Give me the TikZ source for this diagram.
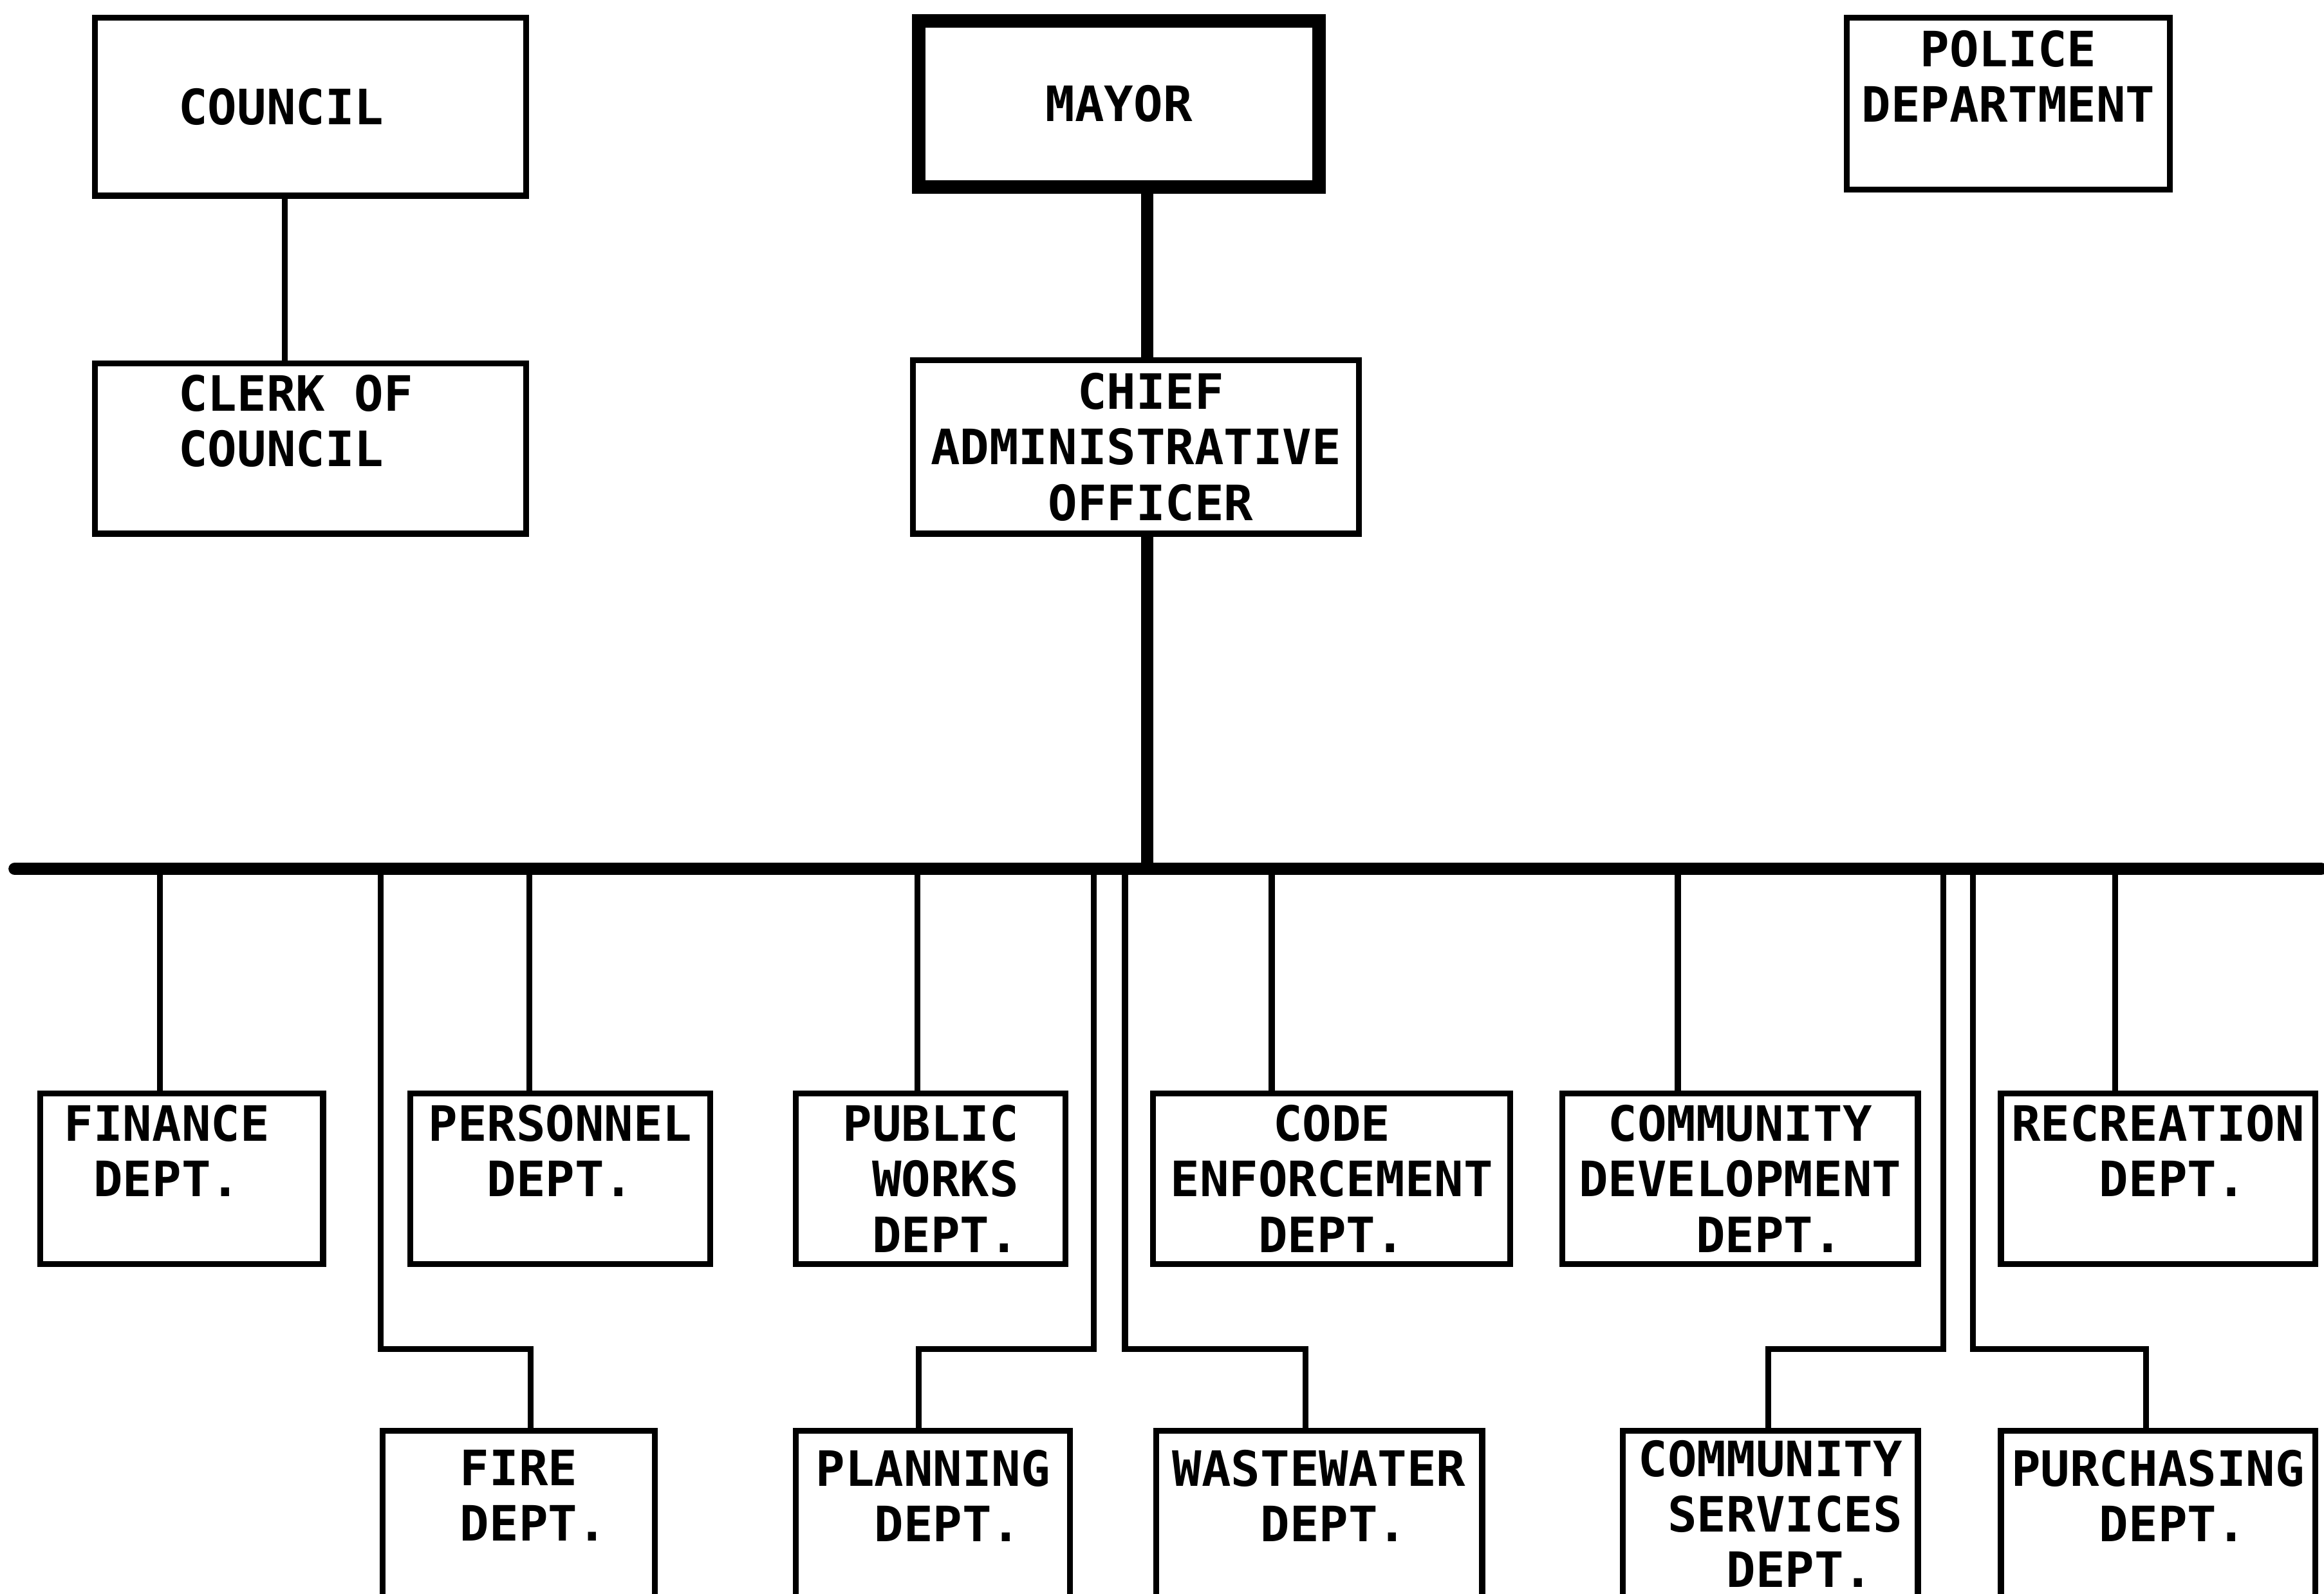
\documentclass[tikz,border=0pt]{standalone}
\usepackage{fontspec}
\setmonofont{DejaVu Sans Mono}
\usepackage{tikz}

% one typewriter column, and an empty typewriter row
\newcommand{\tsp}{\phantom{X}}
\newcommand{\norow}{\mbox{}}

\begin{document}
\begin{tikzpicture}[x=0.023cm,y=-0.023cm,
  font=\ttfamily\bfseries\fontsize{21.5pt}{24.5pt}\selectfont]
% ---- styles ----
\tikzstyle{box}=[draw,line width=2.6pt,align=center,inner sep=0pt,
  minimum height=115*0.023cm]
\tikzstyle{lowbox}=[box,minimum height=125*0.023cm]
\tikzstyle{link}=[line width=2.6pt]
\tikzstyle{heavy}=[line width=5.6pt]

\useasboundingbox (0,0) rectangle (1568,1075);

% ---- top ----
\node[box,minimum width=291*0.023cm,minimum height=120*0.023cm] (council)
  at (209.5,72) {COUNCIL\tsp\tsp};
\node[box,line width=5.9pt,minimum width=270*0.023cm,minimum height=112*0.023cm]
  (mayor) at (755,70) {MAYOR};
\node[box,minimum width=218*0.023cm,minimum height=116*0.023cm] (police)
  at (1355,70) {POLICE\\DEPARTMENT\\\norow};

\node[box,align=left,minimum width=291*0.023cm] (clerk)
  at (209.5,302.5) {CLERK OF\tsp\\COUNCIL\\\norow};
\node[box,minimum width=301*0.023cm,minimum height=117*0.023cm] (cao)
  at (766.5,301.5) {\tsp CHIEF\\ADMINISTRATIVE\\\tsp OFFICER};

% ---- departments ----
\node[box,minimum width=191*0.023cm] (finance) at (122.5,795)
  {FINANCE\tsp\\DEPT.\tsp\\\norow};
\node[box,minimum width=202*0.023cm] (personnel) at (378,795)
  {PERSONNEL\\DEPT.\\\norow};
\node[box,align=right,minimum width=182*0.023cm] (pubworks) at (628,795)
  {PUBLIC\\WORKS\\DEPT.};
\node[box,minimum width=241*0.023cm] (codeenf) at (898.5,795)
  {CODE\\ENFORCEMENT\\DEPT.};
\node[box,minimum width=240*0.023cm] (comdev) at (1174,795)
  {COMMUNITY\\DEVELOPMENT\\\tsp\tsp DEPT.};
\node[box,minimum width=212*0.023cm] (recreation) at (1456,795)
  {RECREATION\\\tsp DEPT.\\\norow};

\node[lowbox,align=left,minimum width=184*0.023cm] (fire) at (350,1027.5)
  {\tsp FIRE\\\tsp DEPT.\\\norow};
\node[lowbox,minimum width=185*0.023cm] (planning) at (629.5,1027.5)
  {PLANNING\\\tsp DEPT.\\\norow};
\node[lowbox,minimum width=220*0.023cm] (wastewater) at (890,1027.5)
  {WASTEWATER\\\tsp DEPT.\\\norow};
\node[lowbox,minimum width=199*0.023cm,minimum height=112*0.023cm] (comserv)
  at (1194.5,1021) {COMMUNITY\\\tsp SERVICES\\\tsp\tsp DEPT.};
\node[lowbox,minimum width=212*0.023cm] (purchasing) at (1456,1027.5)
  {PURCHASING\\\tsp DEPT.\\\norow};

% ---- lines ----
\coordinate (bus) at (10,586);
\coordinate (busend) at (1566,586);
\coordinate (elbow) at (0,910);

\draw[link] (council.south -| 192,0) -- (clerk.north -| 192,0);
\draw[heavy] (mayor.south -| 774,0) -- (cao.north -| 774,0);
\draw[heavy] (cao.south -| 774,0) -- (bus -| 774,0);
\draw[heavy,line cap=round] (bus) -- (busend);

\foreach \d/\x in {finance/108,personnel/357,pubworks/619,codeenf/858,
  comdev/1132,recreation/1427}
  \draw[link] (bus -| \x,0) -- (\d.north -| \x,0);

\foreach \d/\a/\b in {fire/257/358,planning/738/620,wastewater/759/881,
  comserv/1311/1193,purchasing/1331/1448}
  \draw[link] (bus -| \a,0) |- (elbow -| \b,0) -- (\d.north -| \b,0);

\end{tikzpicture}
\end{document}
